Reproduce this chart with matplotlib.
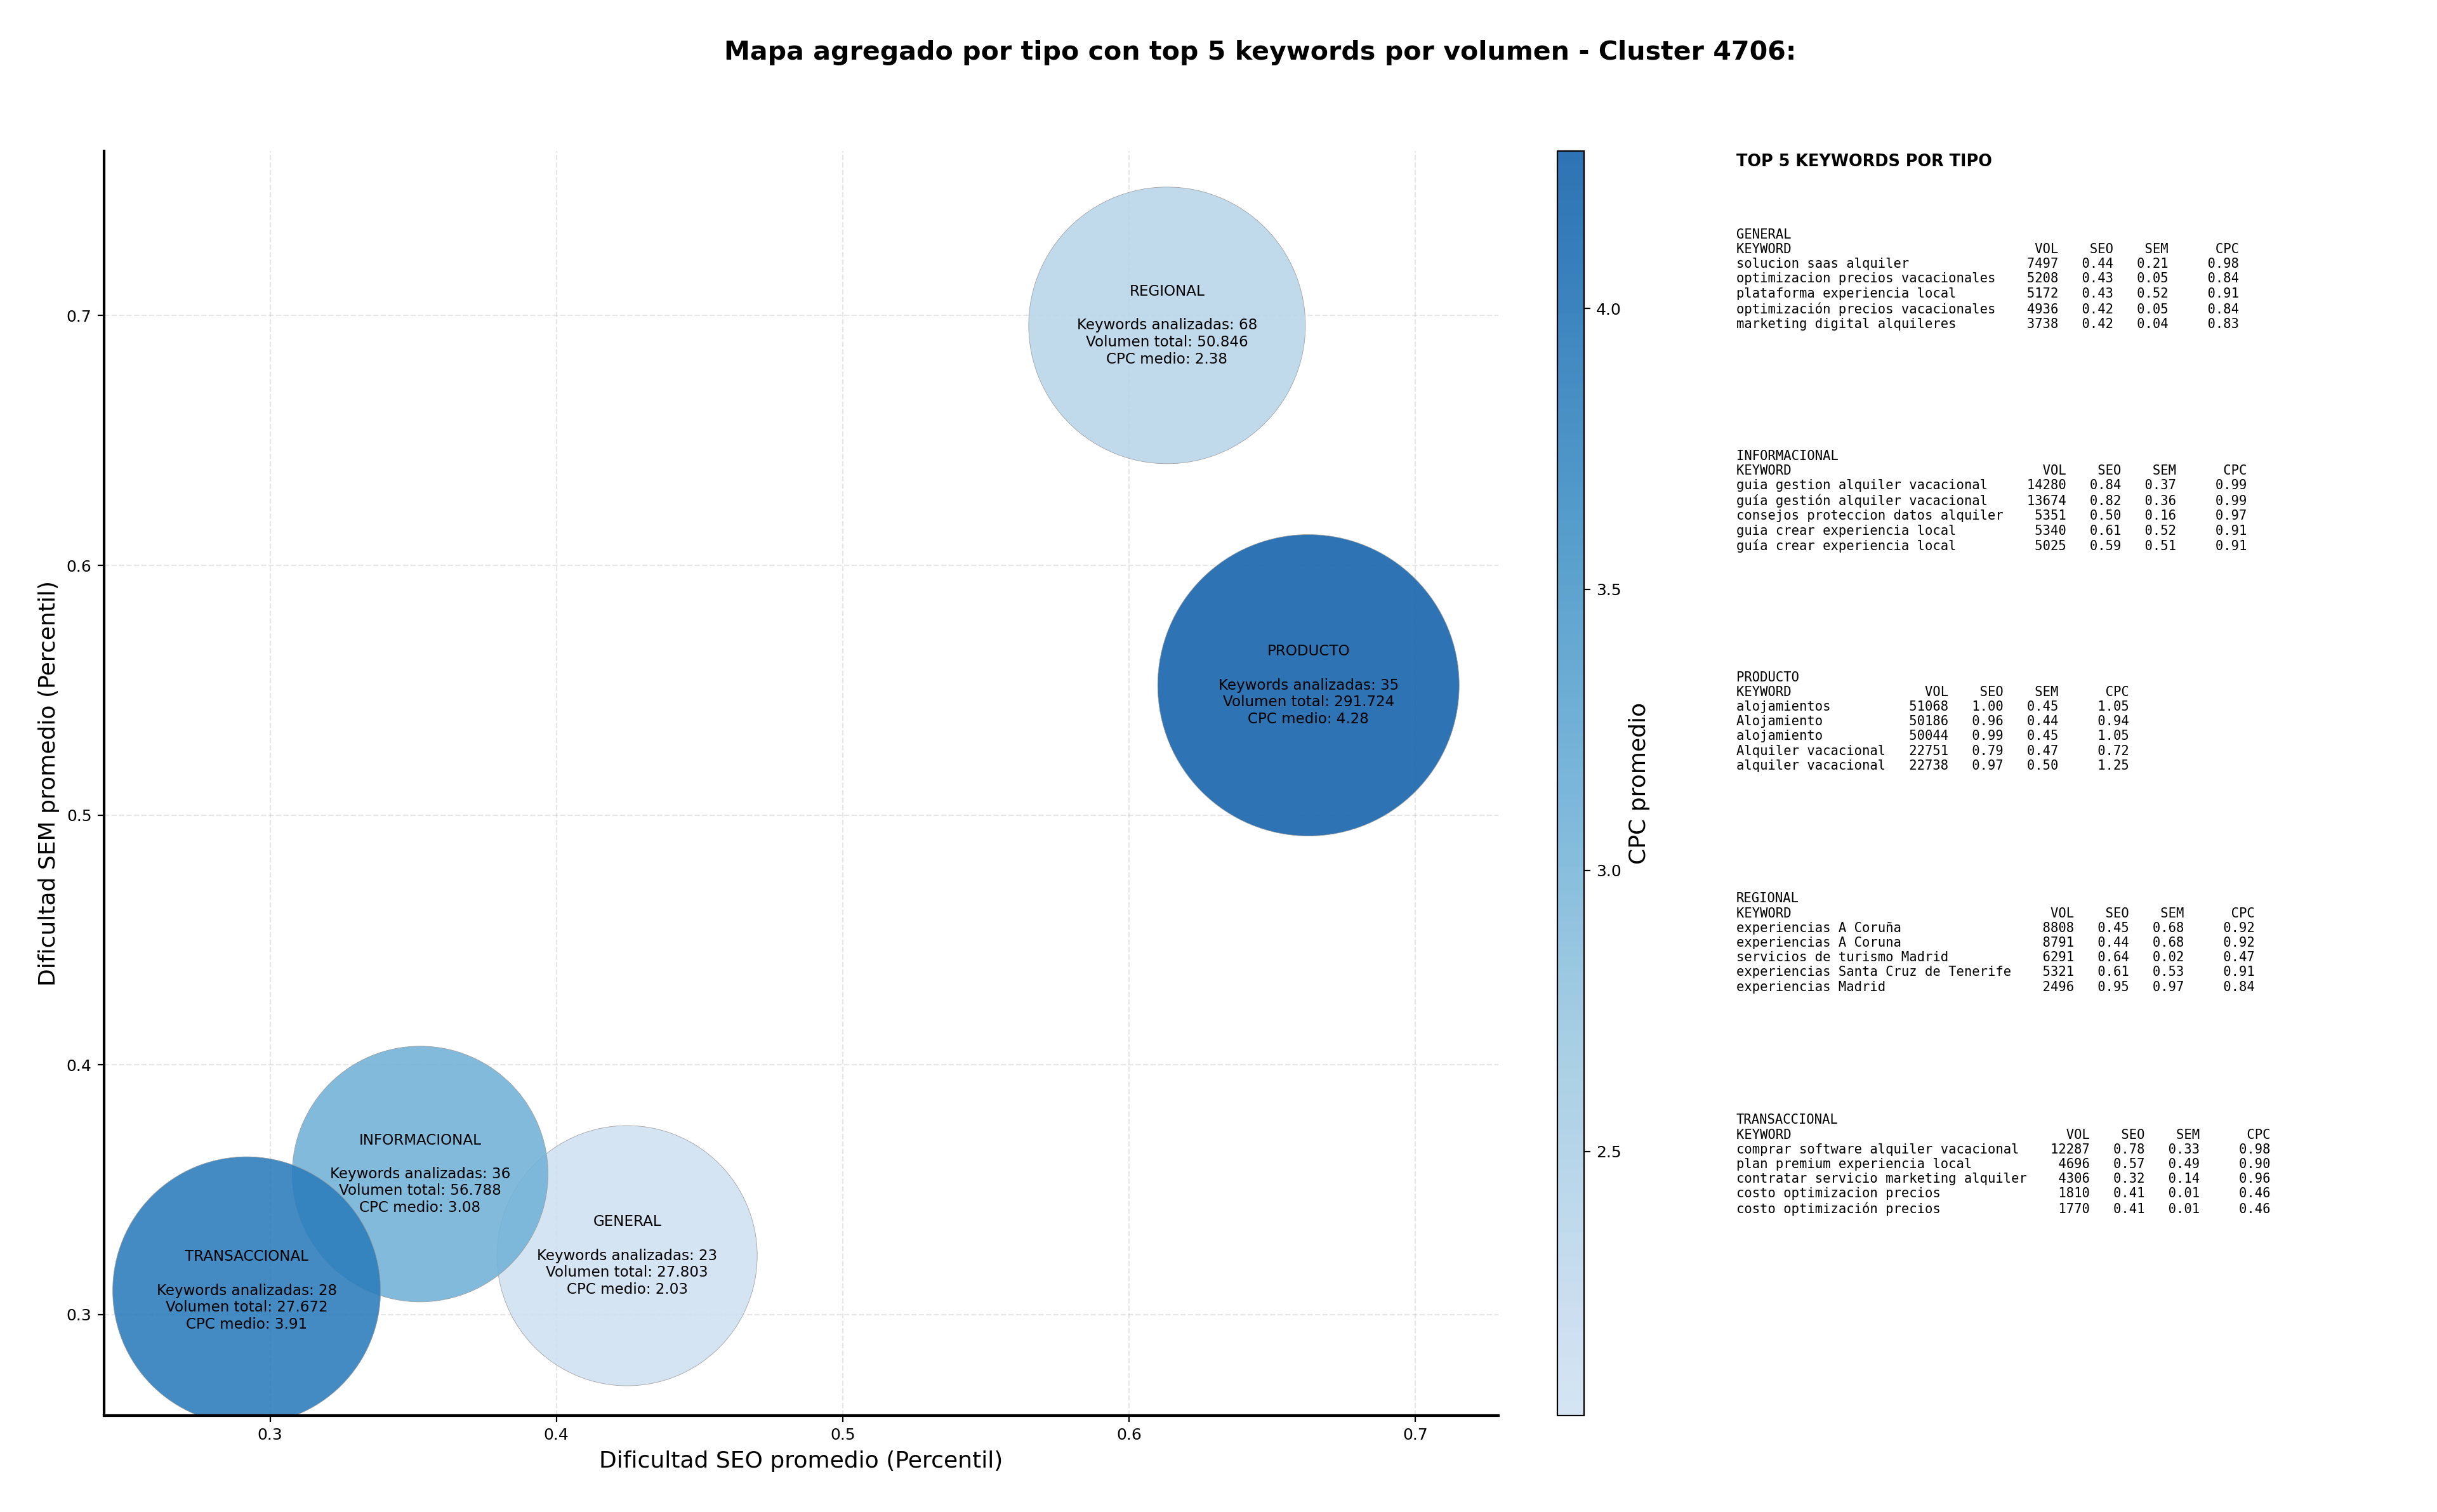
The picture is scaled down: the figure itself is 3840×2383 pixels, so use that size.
import numpy as np
import matplotlib
matplotlib.use('Agg')
import matplotlib.pyplot as plt
from matplotlib.colors import ListedColormap

# datos agregados por tipo
tipos = ['GENERAL', 'INFORMACIONAL', 'PRODUCTO', 'REGIONAL', 'TRANSACCIONAL']
seo_promedio = [0.4247, 0.3524, 0.6627, 0.6133, 0.2918]
sem_promedio = [0.3236, 0.3563, 0.5520, 0.6961, 0.3096]
n_keywords = [23, 36, 35, 68, 28]
volumen_total = [27803, 56788, 291724, 50846, 27672]
cpc_medio = [2.03, 3.08, 4.28, 2.38, 3.91]

# top 5 keywords por tipo: (keyword, vol, seo, sem, cpc)
top_general = [
    ('solucion saas alquiler', 7497, 0.44, 0.21, 0.98),
    ('optimizacion precios vacacionales', 5208, 0.43, 0.05, 0.84),
    ('plataforma experiencia local', 5172, 0.43, 0.52, 0.91),
    ('optimización precios vacacionales', 4936, 0.42, 0.05, 0.84),
    ('marketing digital alquileres', 3738, 0.42, 0.04, 0.83),
]
top_informacional = [
    ('guia gestion alquiler vacacional', 14280, 0.84, 0.37, 0.99),
    ('guía gestión alquiler vacacional', 13674, 0.82, 0.36, 0.99),
    ('consejos proteccion datos alquiler', 5351, 0.50, 0.16, 0.97),
    ('guia crear experiencia local', 5340, 0.61, 0.52, 0.91),
    ('guía crear experiencia local', 5025, 0.59, 0.51, 0.91),
]
top_producto = [
    ('alojamientos', 51068, 1.00, 0.45, 1.05),
    ('Alojamiento', 50186, 0.96, 0.44, 0.94),
    ('alojamiento', 50044, 0.99, 0.45, 1.05),
    ('Alquiler vacacional', 22751, 0.79, 0.47, 0.72),
    ('alquiler vacacional', 22738, 0.97, 0.50, 1.25),
]
top_regional = [
    ('experiencias A Coruña', 8808, 0.45, 0.68, 0.92),
    ('experiencias A Coruna', 8791, 0.44, 0.68, 0.92),
    ('servicios de turismo Madrid', 6291, 0.64, 0.02, 0.47),
    ('experiencias Santa Cruz de Tenerife', 5321, 0.61, 0.53, 0.91),
    ('experiencias Madrid', 2496, 0.95, 0.97, 0.84),
]
top_transaccional = [
    ('comprar software alquiler vacacional', 12287, 0.78, 0.33, 0.98),
    ('plan premium experiencia local', 4696, 0.57, 0.49, 0.90),
    ('contratar servicio marketing alquiler', 4306, 0.32, 0.14, 0.96),
    ('costo optimizacion precios', 1810, 0.41, 0.01, 0.46),
    ('costo optimización precios', 1770, 0.41, 0.01, 0.46),
]
tops = [top_general, top_informacional, top_producto, top_regional, top_transaccional]

# estilo de las burbujas (tamaño en puntos^2)
tam_burbuja = [21790, 21050, 29240, 24640, 23080]

cmap = ListedColormap(plt.cm.Blues(np.linspace(0.2, 0.8, 256)))

fig = plt.figure(figsize=(19.2, 11.915), dpi=200)
ax = fig.add_axes([0.0427, 0.0638, 0.5721, 0.8363])
cax = fig.add_axes([0.639, 0.0638, 0.0109, 0.8363])

sc = ax.scatter(seo_promedio, sem_promedio, s=tam_burbuja, c=cpc_medio, cmap=cmap,
                alpha=0.9, edgecolors='#9a9a9a', linewidths=0.3, zorder=2)

for i, t in enumerate(tipos):
    vol = f"{volumen_total[i]:,}".replace(',', '.')
    txt = f"{t}\n\nKeywords analizadas: {n_keywords[i]}\nVolumen total: {vol}\nCPC medio: {cpc_medio[i]:.2f}"
    ax.text(seo_promedio[i], sem_promedio[i], txt, ha='center', va='center',
            fontsize=8.3, zorder=3)

ax.set_xlim(0.2420, 0.7290)
ax.set_ylim(0.2596, 0.7659)
ax.set_xticks([0.3, 0.4, 0.5, 0.6, 0.7])
ax.set_yticks([0.3, 0.4, 0.5, 0.6, 0.7])
ax.tick_params(labelsize=9)
ax.set_xlabel('Dificultad SEO promedio (Percentil)', fontsize=13)
ax.set_ylabel('Dificultad SEM promedio (Percentil)', fontsize=13)
ax.grid(True, linestyle='--', alpha=0.3)
ax.set_axisbelow(True)
ax.spines['top'].set_visible(False)
ax.spines['right'].set_visible(False)
ax.spines['left'].set_linewidth(1.5)
ax.spines['bottom'].set_linewidth(1.5)

cb = fig.colorbar(sc, cax=cax)
cb.set_label('CPC promedio', fontsize=13)
cb.ax.tick_params(labelsize=9)
cb.set_ticks([2.5, 3.0, 3.5, 4.0])

fig.text(0.517, 0.965, 'Mapa agregado por tipo con top 5 keywords por volumen - Cluster 4706:',
         ha='center', va='center', fontsize=14.8, fontweight='bold')

# panel de texto con top 5
fig.text(0.7125, 0.893, 'TOP 5 KEYWORDS POR TIPO', ha='left', va='center',
         fontsize=9.2, fontweight='bold')

for k, t in enumerate(tipos):
    filas = tops[k]
    w = max(len(f[0]) for f in filas)
    lineas = [t, f"{'KEYWORD':<{w}}{'VOL':>8}{'SEO':>7}{'SEM':>7}{'CPC':>9}"]
    for kw, vol, seo, sem, cpc in filas:
        lineas.append(f"{kw:<{w}}{vol:>8}{seo:>7.2f}{sem:>7.2f}{cpc:>9.2f}")
    fig.text(0.7125, 0.849 - 0.1464 * k, '\n'.join(lineas), ha='left', va='top',
             fontsize=7.4, family='DejaVu Sans Mono')

fig.savefig('out.png', dpi=200)
